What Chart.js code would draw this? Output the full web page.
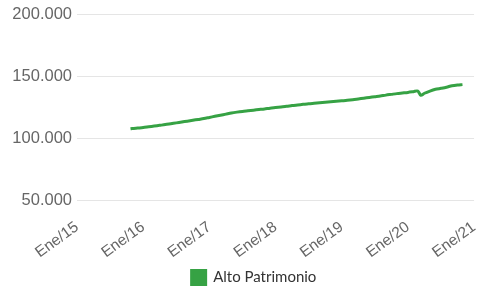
<!DOCTYPE html>
<html><head><meta charset="utf-8">
<script src="https://cdn.jsdelivr.net/npm/chart.js@4/dist/chart.umd.min.js"></script>
<style>html,body{margin:0;padding:0;background:#fff}#wrap{width:495px;height:287px}</style>
</head><body><div id="wrap"><canvas id="c"></canvas></div>
<script>
// month index counted from Ene/15 (0 = January 2015)
const monthIndex = [9.7,10,11,12,13,14,15,16,17,18,19,20,21,22,23,24,25,26,27,28,29,30,31,32,33,34,35,36,37,38,39,40,41,42,43,44,45,46,47,48,49,50,51,52,53,54,55,56,57,58,59,60,61,61.8,62.35,63,64,65,66,67,68,69,69.9];
const altoPatrimonio = [107700,107900,108300,108700,109300,109900,110500,111100,111800,112500,113200,113900,114600,115300,116000,116900,117800,118700,119600,120500,121200,121800,122300,122800,123300,123800,124400,124900,125400,125900,126500,127000,127500,128000,128400,128800,129200,129600,130000,130400,130800,131300,131900,132500,133100,133700,134300,135000,135600,136200,136700,137200,137800,138300,134800,136500,138300,139700,140500,141400,142600,143200,143500];
const yearLabels = ['Ene/15','Ene/16','Ene/17','Ene/18','Ene/19','Ene/20','Ene/21'];
const seriesName = 'Alto Patrimonio';

const points = monthIndex.map((m,i)=>({x:m,y:altoPatrimonio[i]}));
const legendShift = {
  id:'legendShift',
  afterLayout(chart){ if(chart.legend){ chart.legend.left += 9; chart.legend.right += 9; } }
};
new Chart(document.getElementById('c'),{
  type:'line',
  data:{datasets:[{label:seriesName,data:points,borderColor:'#36a244',backgroundColor:'#36a244',borderWidth:3,pointRadius:0,tension:0.3,fill:false}]},
  options:{
    responsive:true,maintainAspectRatio:false,animation:false,
    layout:{padding:{left:0,right:5,top:8,bottom:-8}},
    plugins:{
      legend:{position:'bottom',labels:{boxWidth:14,boxHeight:14,padding:6,color:'#333',font:{family:'Lato',size:15}}},
      tooltip:{enabled:false}
    },
    scales:{
      x:{type:'linear',min:0,max:72,
        grid:{display:false},border:{display:false},
        afterFit:(s)=>{s.height=64;},
        ticks:{stepSize:12,autoSkip:false,minRotation:36,maxRotation:36,padding:10,color:'#666',font:{family:'Liberation Sans',size:15.5},
          callback:(v)=>yearLabels[v/12]}},
      y:{min:50000,max:200000,
        grid:{color:'#e5e5e5',lineWidth:1,drawTicks:false},border:{display:false},
        afterFit:(s)=>{s.width=77;},
        ticks:{stepSize:50000,padding:5,color:'#666',font:{family:'Liberation Sans',size:16.5},
          callback:(v)=>v.toLocaleString('de-DE')}}
    }
  },
  plugins:[legendShift]
});
</script></body></html>
